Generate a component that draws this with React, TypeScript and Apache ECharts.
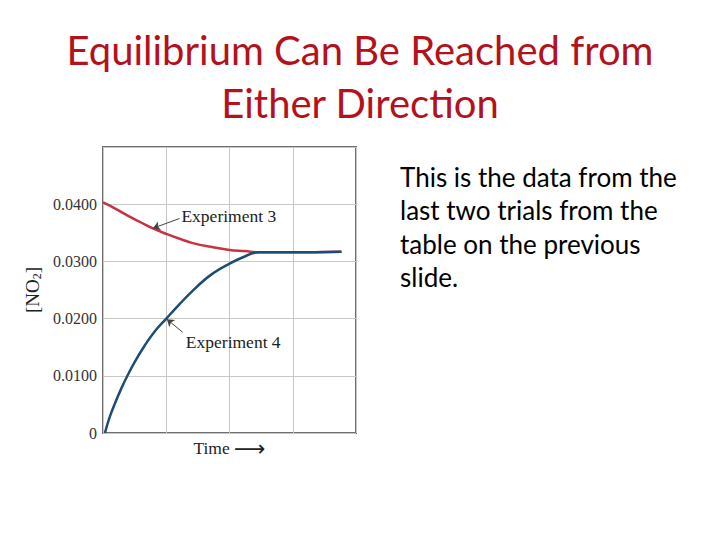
import React, { useEffect, useRef } from 'react';
import * as echarts from 'echarts';

// x = time (arbitrary units), y = [NO2] in M
const exp3Time = [0, 0.2, 0.39, 0.6, 0.78, 1, 1.2, 1.42, 1.72, 2, 2.25, 2.45, 3, 3.77];
const exp3Conc = [0.0403, 0.0392, 0.038, 0.0368, 0.0358, 0.0348, 0.034, 0.0332, 0.0325, 0.032, 0.0318, 0.0316, 0.0316, 0.0317];

const exp4Time = [0.03, 0.1, 0.19, 0.29, 0.39, 0.5, 0.66, 0.82, 1, 1.2, 1.42, 1.7, 2, 2.25, 2.45, 3, 3.77];
const exp4Conc = [0, 0.0026, 0.0052, 0.0078, 0.0101, 0.0124, 0.0153, 0.0178, 0.02, 0.0224, 0.0249, 0.0276, 0.0296, 0.0309, 0.0316, 0.0316, 0.0317];

const yTicks = [0, 0.01, 0.02, 0.03, 0.04];

// callouts: text anchor, arrow start, arrow tip (data coords)
const exp3Callout = { text: 'Experiment 3', at: [1.24, 0.038], from: [1.21, 0.0375], to: [0.79, 0.0358] };
const exp4Callout = { text: 'Experiment 4', at: [1.31, 0.0159], from: [1.26, 0.0176], to: [1.01, 0.0199] };

const titleText = 'Equilibrium Can Be Reached from\nEither Direction';
const bodyText = 'This is the data from the\nlast two trials from the\ntable on the previous\nslide.';

const SERIF = '"Liberation Serif", "DejaVu Serif", serif';
const SANS = 'Lato, "Noto Sans", sans-serif';

const callout = (c: typeof exp3Callout) => ({
  silent: true,
  markLine: {
    symbol: ['none', 'arrow'],
    symbolSize: 7,
    label: { show: false },
    lineStyle: { color: '#444', width: 1, type: 'solid' },
    data: [[{ coord: c.from }, { coord: c.to }]],
  },
  markPoint: {
    symbol: 'circle',
    symbolSize: 0,
    label: {
      show: true,
      position: 'right',
      distance: 0,
      formatter: c.text,
      color: '#222',
      fontFamily: SERIF,
      fontSize: 17.5,
    },
    data: [{ coord: c.at }],
  },
});

const App: React.FC = () => {
  const chartRef = useRef<HTMLDivElement>(null);

  useEffect(() => {
    if (!chartRef.current) return;
    const chart = echarts.init(chartRef.current, undefined, { renderer: 'svg' });

    const option: echarts.EChartsOption = {
      animation: false,
      backgroundColor: '#fff',
      grid: {
        left: 103,
        top: 147,
        right: 364,
        bottom: 107,
        show: true,
        borderColor: '#6e6e6e',
        borderWidth: 2,
      },
      xAxis: {
        type: 'value',
        min: 0,
        max: 4,
        interval: 1,
        axisLine: { show: false },
        axisTick: { show: false },
        axisLabel: { show: false },
        splitLine: { show: true, lineStyle: { color: '#c8c8c8', width: 1 } },
        name: '{t|Time} {arr|⟶}',
        nameLocation: 'middle',
        nameGap: 4,
        nameTextStyle: {
          color: '#222',
          fontFamily: SERIF,
          fontSize: 17.5,
          rich: {
            t: { fontFamily: SERIF, fontSize: 17.5, color: '#222' },
            arr: { fontFamily: '"DejaVu Sans"', fontSize: 22, color: '#222' },
          },
        },
      },
      yAxis: {
        type: 'value',
        min: 0,
        max: 0.05,
        interval: 0.01,
        axisLine: { show: false },
        axisTick: { show: false },
        splitLine: { show: true, lineStyle: { color: '#c8c8c8', width: 1 } },
        axisLabel: {
          margin: 6,
          color: '#333',
          fontFamily: SERIF,
          fontSize: 16,
          formatter: (v: number) => {
            const t = yTicks.find((k) => Math.abs(k - v) < 1e-9);
            if (t === undefined) return '';
            return t === 0 ? '0' : t.toFixed(4);
          },
        },
        name: '{m|[NO}{sub|2}{m|]}',
        nameLocation: 'middle',
        nameRotate: 90,
        nameGap: 60,
        nameTextStyle: {
          color: '#222',
          fontFamily: SERIF,
          fontSize: 19,
          rich: {
            m: { fontFamily: SERIF, fontSize: 19, color: '#222' },
            sub: { fontFamily: SERIF, fontSize: 12, color: '#222', padding: [9, 0, 0, 0] },
          },
        },
      },
      graphic: [
        {
          type: 'text',
          x: 360,
          y: 23,
          style: {
            text: titleText,
            fill: '#b3121c',
            font: `40px ${SANS}`,
            lineHeight: 53,
            align: 'center',
            verticalAlign: 'top',
          },
        },
        {
          type: 'text',
          x: 400,
          y: 160,
          style: {
            text: bodyText,
            fill: '#000',
            font: `26px ${SANS}`,
            lineHeight: 33.5,
            align: 'left',
            verticalAlign: 'top',
          },
        },
      ],
      series: [
        {
          name: 'Experiment 3',
          type: 'line',
          smooth: 0.4,
          symbol: 'none',
          lineStyle: { color: '#c9333f', width: 2.5 },
          data: exp3Time.map((t, i) => [t, exp3Conc[i]]),
          ...callout(exp3Callout),
        },
        {
          name: 'Experiment 4',
          type: 'line',
          smooth: 0.4,
          symbol: 'none',
          lineStyle: { color: '#1f4b77', width: 2.5 },
          data: exp4Time.map((t, i) => [t, exp4Conc[i]]),
          ...callout(exp4Callout),
        },
      ],
    };

    chart.setOption(option);
    return () => chart.dispose();
  }, []);

  return (
    <div
      ref={chartRef}
      style={{ position: 'absolute', left: 0, top: 0, width: 720, height: 540 }}
    />
  );
};

export default App;
